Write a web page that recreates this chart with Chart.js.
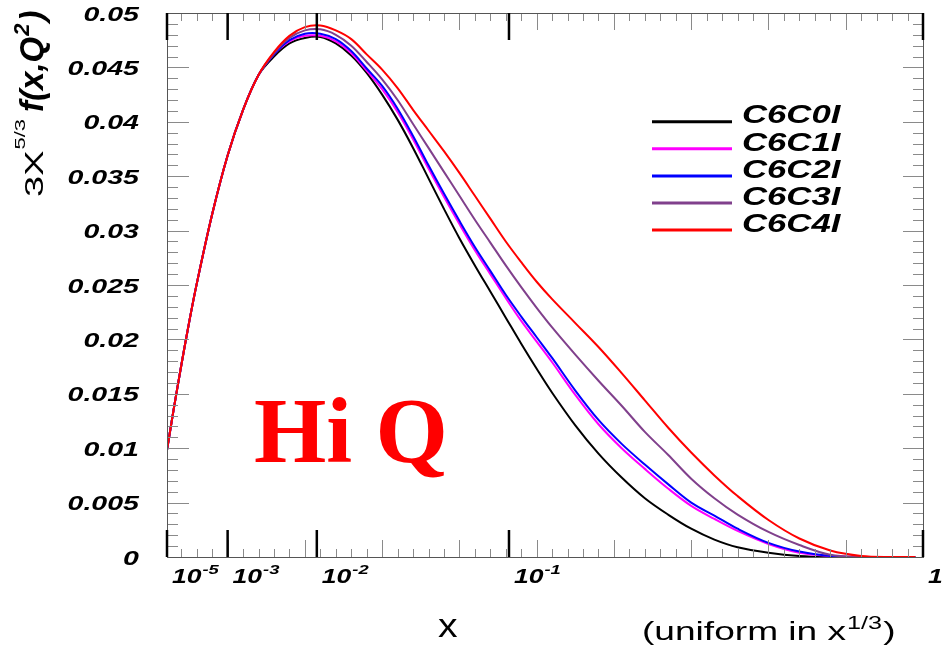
<!DOCTYPE html>
<html><head><meta charset="utf-8">
<script src="https://cdn.jsdelivr.net/npm/chart.js@4.4.1/dist/chart.umd.min.js"></script>
<style>html,body{margin:0;padding:0;background:#fff;}#wrap{width:951px;height:646px;}</style>
</head><body><div id="wrap"><canvas id="c" width="951" height="646"></canvas></div>
<script>
// x positions are given as x^(1/3) (axis is uniform in x^(1/3))
const xCubeRoot = [0.0215,0.03,0.04,0.05,0.06,0.08,0.10,0.12,0.14,0.16,0.18,0.20,0.22,0.24,0.26,0.28,0.30,0.32,0.34,0.36,0.38,0.40,0.42,0.44,0.46,0.48,0.50,0.52,0.55,0.58,0.61,0.64,0.67,0.70,0.73,0.76,0.80,0.84,0.88,0.92,0.96,0.99];
const seriesNames = ['C6C0I','C6C1I','C6C2I','C6C3I','C6C4I'];
const c6c0i = [0.0098,0.0135,0.0176,0.0215,0.0251,0.0315,0.0369,0.0411,0.0443,0.0460,0.0472,0.0477,0.0478,0.0472,0.0461,0.0445,0.0425,0.0402,0.0376,0.0348,0.0320,0.0293,0.0268,0.0244,0.0220,0.0196,0.0173,0.0151,0.0121,0.0095,0.0073,0.0054,0.0039,0.0026,0.0016,0.0009,0.0004,0.0001,0,0,0,0];
const c6c1i = [0.0098,0.0135,0.0176,0.0215,0.0251,0.0315,0.0369,0.0411,0.0443,0.0462,0.0474,0.0479,0.0479,0.0474,0.0463,0.0447,0.0430,0.0409,0.0384,0.0357,0.0331,0.0306,0.0282,0.0260,0.0238,0.0217,0.0198,0.0179,0.0149,0.0122,0.0100,0.0081,0.0063,0.0047,0.0035,0.0024,0.0012,0.0004,0.0001,0,0,0];
const c6c2i = [0.0098,0.0135,0.0176,0.0215,0.0251,0.0315,0.0369,0.0411,0.0443,0.0462,0.0475,0.0481,0.0481,0.0476,0.0465,0.0449,0.0433,0.0412,0.0387,0.0360,0.0334,0.0309,0.0285,0.0263,0.0241,0.0221,0.0202,0.0183,0.0153,0.0126,0.0104,0.0085,0.0067,0.0050,0.0038,0.0026,0.0013,0.0005,0.0001,0,0,0];
const c6c3i = [0.0098,0.0135,0.0176,0.0215,0.0251,0.0315,0.0369,0.0411,0.0443,0.0463,0.0477,0.0484,0.0485,0.0480,0.0470,0.0455,0.0439,0.0420,0.0398,0.0376,0.0354,0.0332,0.0310,0.0289,0.0268,0.0248,0.0229,0.0211,0.0186,0.0162,0.0139,0.0115,0.0094,0.0072,0.0054,0.0039,0.0023,0.0011,0.0002,0,0,0];
const c6c4i = [0.0098,0.0135,0.0176,0.0215,0.0251,0.0315,0.0369,0.0411,0.0443,0.0464,0.0479,0.0487,0.04885,0.0484,0.0476,0.0462,0.0448,0.0431,0.0411,0.0392,0.0373,0.0353,0.0332,0.0311,0.0290,0.0271,0.0253,0.0237,0.0215,0.0193,0.0169,0.0144,0.0119,0.0096,0.0075,0.0056,0.0034,0.0017,0.0006,0.0001,0,0];
const seriesColors = ['#000000','#ff00ff','#0000ff','#80408c','#ff0000'];
const yTickValues = [0,0.005,0.01,0.015,0.02,0.025,0.03,0.035,0.04,0.045,0.05];
const yTickLabels = ['0','0.005','0.01','0.015','0.02','0.025','0.03','0.035','0.04','0.045','0.05'];
const xMajorValues = [1e-5,1e-3,1e-2,1e-1,1];
const xMajorBase = ['10','10','10','10','1'];
const xMajorExp = ['-5','-3','-2','-1',''];

const allSeries = [c6c0i,c6c1i,c6c2i,c6c3i,c6c4i];
const datasets = allSeries.map((vals,i)=>({
  label: seriesNames[i],
  data: xCubeRoot.map((u,j)=>({x:u,y:vals[j]})),
  borderColor: seriesColors[i],
  borderWidth: 2,
  pointRadius: 0,
  fill: false,
  tension: 0.35,
  order: 5-i
}));

const SANS = "'Liberation Sans', Arial, Helvetica, sans-serif";
function sText(ctx,str,x,y,font,sx,align,color){
  ctx.save(); ctx.font=font; ctx.fillStyle=color||'#000'; ctx.textAlign=align||'left'; ctx.textBaseline='alphabetic';
  ctx.translate(x,y); ctx.scale(sx,1); ctx.fillText(str,0,0); ctx.restore();
}
function sWidth(ctx,str,font,sx){ ctx.save(); ctx.font=font; const w=ctx.measureText(str).width*sx; ctx.restore(); return w; }
function seg(ctx,x1,y1,x2,y2){ ctx.beginPath(); ctx.moveTo(x1,y1); ctx.lineTo(x2,y2); ctx.stroke(); }

const rootFrame = {
  id:'rootFrame',
  afterDatasetsDraw(chart){
    const ctx=chart.ctx, a=chart.chartArea, xs=chart.scales.x, ys=chart.scales.y;
    ctx.save();
    ctx.strokeStyle='#8a8a8a'; ctx.lineWidth=1;
    for(let k=1;k<50;k++){
      const u=k*0.02; if(u<=xs.min||u>=xs.max) continue;
      const px=Math.round(xs.getPixelForValue(u))+0.5; const len=(k%5===0)?17:8;
      seg(ctx,px,a.bottom,px,a.bottom-len); seg(ctx,px,a.top,px,a.top+len);
    }
    for(let k=1;k<50;k++){
      const v=k*0.001; const py=Math.round(ys.getPixelForValue(v))+0.5; const med=(k%5===0);
      seg(ctx,a.left,py,a.left+(med?22:11),py); seg(ctx,a.right,py,a.right-(med?20:10),py);
    }
    ctx.strokeStyle='#555'; ctx.lineWidth=1;
    ctx.strokeRect(Math.round(a.left)+0.5,Math.round(a.top)+0.5,Math.round(a.right-a.left),Math.round(a.bottom-a.top));
    ctx.strokeStyle='#000'; ctx.lineWidth=2.5;
    xMajorValues.forEach(v=>{ const px=xs.getPixelForValue(Math.cbrt(v)); seg(ctx,px,a.bottom,px,a.bottom-27); seg(ctx,px,a.top,px,a.top+27); });
    const fBig="bold italic 19.5px "+SANS, fSup="bold italic 13.5px "+SANS, SX=1.36;
    xMajorValues.forEach((v,i)=>{
      const px=xs.getPixelForValue(Math.cbrt(v))+5;
      sText(ctx,xMajorBase[i],px,583,fBig,SX);
      if(xMajorExp[i]){ const w=sWidth(ctx,xMajorBase[i],fBig,SX); sText(ctx,xMajorExp[i],px+w+1,574,fSup,SX); }
    });
    const fY="bold italic 21px "+SANS;
    yTickValues.forEach((v,i)=>{ const py=ys.getPixelForValue(v); sText(ctx,yTickLabels[i],139,py+7.5,fY,1.36,'right'); });
    const fL="bold italic 25.5px "+SANS;
    seriesNames.forEach((n,i)=>{
      const ly=121.7+i*27.1;
      ctx.strokeStyle=seriesColors[i]; ctx.lineWidth=3; seg(ctx,652,ly,732,ly);
      sText(ctx,n,742,ly+1.7,fL,1.36);
    });
    sText(ctx,'Hi Q',254,461.7,"bold 93px 'Liberation Serif', 'Times New Roman', serif",1,'left','#ff0000');
    sText(ctx,'x',438,637,"34px "+SANS,1.15);
    const fT="26.5px "+SANS, fTs="18px "+SANS;
    let tx=642; sText(ctx,'(uniform in x',tx,639.5,fT,1.4); tx+=sWidth(ctx,'(uniform in x',fT,1.4)+1;
    sText(ctx,'1/3',tx,629,fTs,1.4); tx+=sWidth(ctx,'1/3',fTs,1.4)+1;
    sText(ctx,')',tx,639.5,fT,1.4);
    // y title (rotated)
    ctx.save(); ctx.translate(43,197); ctx.rotate(-Math.PI/2);
    ctx.fillStyle='#000'; ctx.textBaseline='alphabetic'; ctx.textAlign='left';
    let t=0;
    ctx.save(); ctx.scale(1,0.68); ctx.font="38px "+SANS; ctx.fillText('3X',t,0); t+=ctx.measureText('3X').width+1;
    ctx.font="22px "+SANS; ctx.fillText('5/3',t,-26); t+=ctx.measureText('5/3').width+7; ctx.restore();
    ctx.font="bold italic 33px "+SANS; ctx.fillText('f(x,Q',t,0); t+=ctx.measureText('f(x,Q').width+1;
    ctx.font="bold italic 22px "+SANS; ctx.fillText('2',t,-14); t+=ctx.measureText('2').width+2;
    ctx.font="bold italic 33px "+SANS; ctx.fillText(')',t,0);
    ctx.restore();
    ctx.restore();
  }
};

new Chart(document.getElementById('c'),{
  type:'line',
  data:{datasets},
  options:{
    responsive:false, animation:false, devicePixelRatio:1,
    layout:{padding:{left:167,right:28,top:13,bottom:89}},
    scales:{
      x:{type:'linear',min:Math.cbrt(1e-5),max:1,display:false},
      y:{type:'linear',min:0,max:0.05,display:false}
    },
    plugins:{legend:{display:false},tooltip:{enabled:false}}
  },
  plugins:[rootFrame]
});
</script></body></html>
